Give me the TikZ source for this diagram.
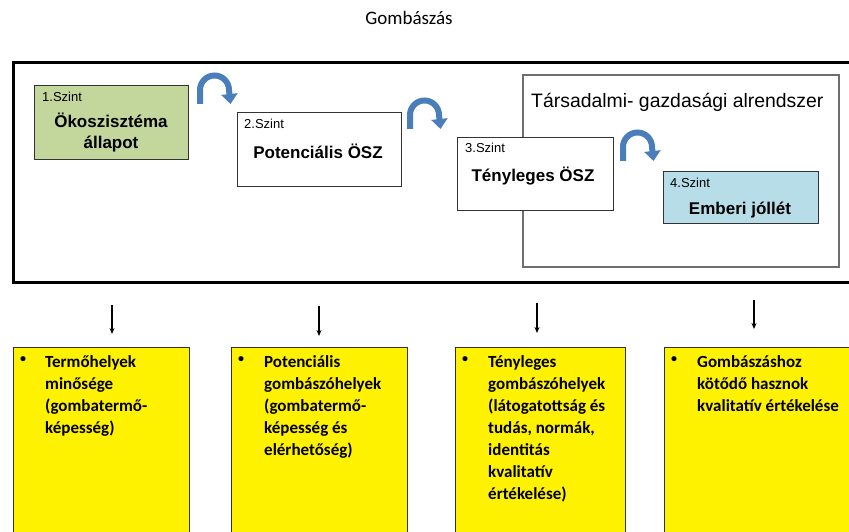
\documentclass[tikz,border=0pt]{standalone}
\usepackage{fontspec}
\setmainfont{Liberation Sans}
\newfontfamily\calfont{Carlito}
\usetikzlibrary{arrows.meta}

\definecolor{ecogreen}{HTML}{C3D69B}
\definecolor{wellblue}{HTML}{B7DDE8}
\definecolor{arrowblue}{HTML}{4A7EBB}
\definecolor{frame}{HTML}{6E6E6E}

\tikzset{
  level/.style={draw=black!80, line width=1pt, anchor=north west, inner sep=0pt},
  szint/.style={anchor=west, font=\fontsize{13}{15}\selectfont, inner sep=0pt},
  lvltitle/.style={font=\bfseries\fontsize{17}{21}\selectfont, align=center, inner sep=0pt},
  yellowbox/.style={draw=black!80, line width=1pt, fill=yellow, anchor=north west, inner sep=0pt},
  bullet/.style={anchor=north west, inner sep=0pt, font=\calfont\bfseries\fontsize{12}{22}\selectfont},
  itemtext/.style={anchor=north west, inner sep=0pt, align=left,
    font=\calfont\bfseries\fontsize{17}{22}\selectfont},
  down/.style={-{Stealth[length=6pt,width=5pt]}, line width=1.2pt},
  bend arrow/.style={line width=6pt, arrowblue,
    -{Triangle[length=10pt,width=16pt]}},
}

% curved "next level" arrow; #1,#2 = bottom of the left leg
\newcommand{\levelarrow}[2]{%
  \draw[bend arrow] (#1,#2) -- (#1,#2-14)
    arc[start angle=-180, end angle=0, radius=14.5] -- ++(1.5,14);
}

\begin{document}
\begin{tikzpicture}[x=1pt,y=-1pt]
  \clip (0,0) rectangle (849,532);
  \fill[white] (0,0) rectangle (849,532);

  % title
  \node[font=\calfont\fontsize{19}{22}\selectfont] (title) at (409,18) {Gombászás};

  % outer frame
  \node[draw=black, line width=2.6pt, anchor=north west, minimum width=860pt,
        minimum height=220pt, inner sep=0pt] (outer) at (12,61) {};

  % socio-economic subsystem
  \node[draw=frame, line width=2pt, anchor=north west, minimum width=316pt,
        minimum height=192pt, inner sep=0pt] (socio) at (522,74) {};
  \node[anchor=west, font=\fontsize{19.4}{22}\selectfont, inner sep=0pt]
        (sociot) at (531,102) {Társadalmi- gazdasági alrendszer};

  % level boxes
  \node[level, fill=ecogreen, minimum width=154pt, minimum height=74pt] (b1) at (34,85) {};
  \node[szint] (b1s) at (42,97) {1.Szint};
  \node[lvltitle] (b1t) at (111,133) {Ökoszisztéma\\állapot};

  \node[level, fill=white, minimum width=164pt, minimum height=74pt] (b2) at (237,112) {};
  \node[szint] (b2s) at (244,124) {2.Szint};
  \node[lvltitle] (b2t) at (318,151) {Potenciális ÖSZ};

  \node[level, fill=white, minimum width=156pt, minimum height=73pt] (b3) at (457,137) {};
  \node[szint] (b3s) at (465,148) {3.Szint};
  \node[lvltitle] (b3t) at (533,176) {Tényleges ÖSZ};

  \node[level, fill=wellblue, minimum width=155pt, minimum height=52pt] (b4) at (663,171) {};
  \node[szint] (b4s) at (670,183) {4.Szint};
  \node[lvltitle] (b4t) at (740,210) {Emberi jóllét};

  % curved arrows between levels
  \levelarrow{200}{104}
  \levelarrow{410}{129}
  \levelarrow{623}{161}

  % downward arrows
  \coordinate (d1a) at (112,305); \coordinate (d1b) at (112,334);
  \coordinate (d2a) at (319,306); \coordinate (d2b) at (319,336);
  \coordinate (d3a) at (537,303); \coordinate (d3b) at (537,333);
  \coordinate (d4a) at (754,300); \coordinate (d4b) at (754,329);
  \draw[down] (d1a) -- (d1b);
  \draw[down] (d2a) -- (d2b);
  \draw[down] (d3a) -- (d3b);
  \draw[down] (d4a) -- (d4b);

  % yellow boxes
  \node[yellowbox, minimum width=176pt, minimum height=200pt] (y1) at (13,347) {};
  \node[bullet] (y1b) at (20,356) {•};
  \node[itemtext] (y1t) at (45,355) {Termőhelyek\\minősége\\(gombatermő-\\képesség)};

  \node[yellowbox, minimum width=176pt, minimum height=200pt] (y2) at (231,347) {};
  \node[bullet] (y2b) at (238,356) {•};
  \node[itemtext] (y2t) at (264,355) {Potenciális\\gombászóhelyek\\(gombatermő-\\képesség és\\elérhetőség)};

  \node[yellowbox, minimum width=170pt, minimum height=200pt] (y3) at (455,347) {};
  \node[bullet] (y3b) at (462,356) {•};
  \node[itemtext] (y3t) at (488,355) {Tényleges\\gombászóhelyek\\(látogatottság és\\tudás, normák,\\identitás\\kvalitatív\\értékelése)};

  \node[yellowbox, minimum width=200pt, minimum height=200pt] (y4) at (664,347) {};
  \node[bullet] (y4b) at (671,356) {•};
  \node[itemtext] (y4t) at (697,355) {Gombászáshoz\\kötődő hasznok\\kvalitatív értékelése};
\end{tikzpicture}
\end{document}
